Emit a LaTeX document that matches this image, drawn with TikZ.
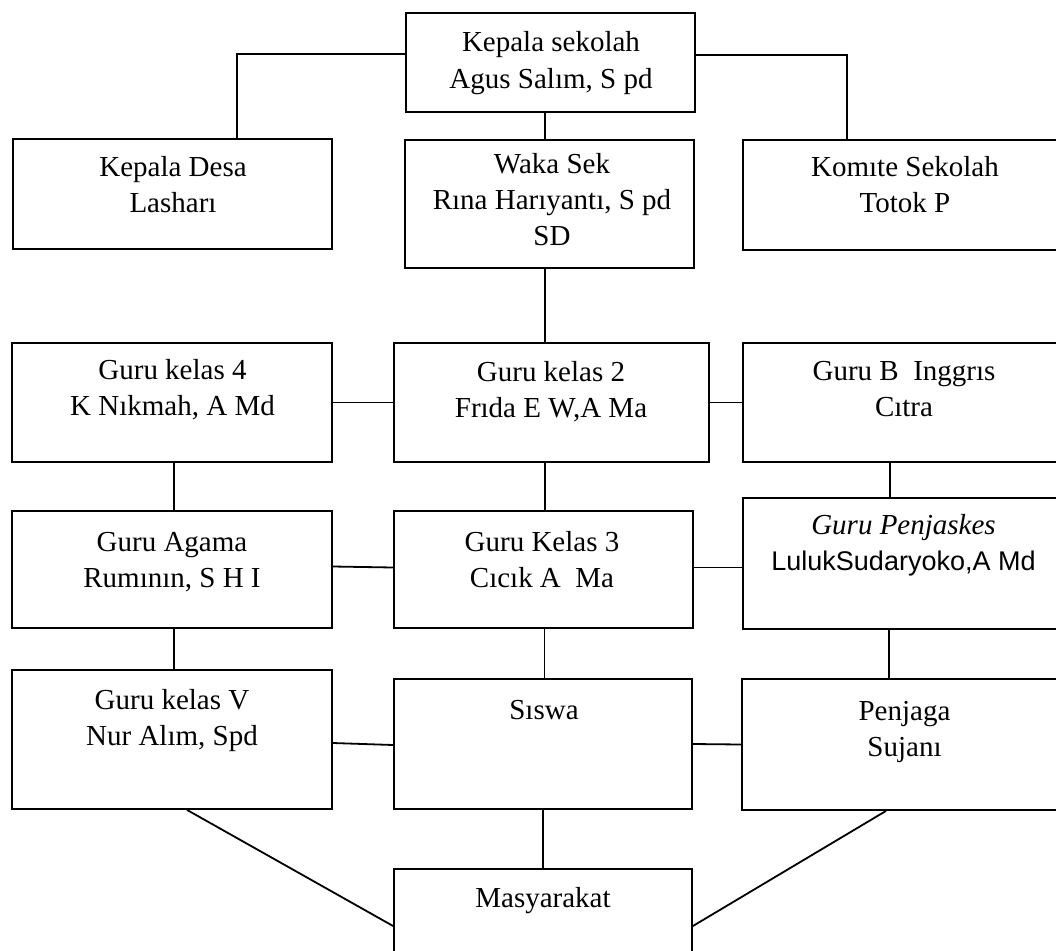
\documentclass[tikz,border=0pt]{standalone}
\usepackage{fontspec}
\setmainfont{Liberation Serif}
\newfontfamily\arialfont{Liberation Sans}
\usetikzlibrary{positioning}

\tikzset{
  box/.style={draw, line width=1.8pt, inner sep=0pt},
  lbl/.style={align=center, inner sep=0pt, anchor=base,
    font=\fontsize{29}{36}\selectfont},
  link/.style={line width=1.8pt}
}

\begin{document}
\begin{tikzpicture}[x=1pt,y=-1pt]
\useasboundingbox[fill=white] (0,0) rectangle (1056,950);
\clip (0,0) rectangle (1056,950);

% boxes, top to bottom
\node[box, minimum width=289pt, minimum height=99pt]  (kasek)   at (550.5,62.5) {};
\node[box, minimum width=319pt, minimum height=110pt] (desa)    at (172.5,194)  {};
\node[box, minimum width=289pt, minimum height=128pt] (waka)    at (549.5,204)  {};
\node[box, minimum width=317pt, minimum height=110pt] (komite)  at (901.5,195)  {};

\node[box, minimum width=320pt, minimum height=119pt] (kelas4)  at (172,402.5)   {};
\node[box, minimum width=315pt, minimum height=119pt] (kelas2)  at (551.5,402.5) {};
\node[box, minimum width=317pt, minimum height=119pt] (inggris) at (901.5,402.5) {};

\node[box, minimum width=320pt, minimum height=117pt] (agama)   at (172,569.5)   {};
\node[box, minimum width=299pt, minimum height=117pt] (kelas3)  at (543.5,569.5) {};
\node[box, minimum width=317pt, minimum height=131pt] (penjas)  at (901.5,563.5) {};

\node[box, minimum width=320pt, minimum height=139pt] (kelas5)  at (172,739.5)   {};
\node[box, minimum width=298pt, minimum height=130pt] (siswa)   at (543,744)     {};
\node[box, minimum width=318pt, minimum height=131pt] (penjaga) at (901,744.5)   {};

\node[box, minimum width=298pt, minimum height=110pt] (masy)    at (543,924)     {};

% texts (placed at the baseline of the last line)
\node[lbl] (tkasek)   at (551,88)    {Kepala sekolah\\Agus Salım, S pd};
\node[lbl] (tdesa)    at (173,212)   {Kepala Desa\\Lasharı};
\node[lbl] (twaka)    at (552,245)   {Waka Sek\\Rına Harıyantı, S pd\\SD};
\node[lbl] (tkomite)  at (905,212)   {Komıte Sekolah\\Totok P};
\node[lbl] (tkelas4)  at (172.5,415) {Guru kelas 4\\K Nıkmah, A Md};
\node[lbl] (tkelas2)  at (551,417)   {Guru kelas 2\\Frıda E W,A Ma};
\node[lbl] (tinggris) at (904,416)   {Guru B~~Inggrıs\\Cıtra};
\node[lbl] (tagama)   at (172,587)   {Guru Agama\\Rumının, S H I};
\node[lbl] (tkelas3)  at (542,587)   {Guru Kelas 3\\Cıcık A~~Ma};
\node[lbl] (tpenjas)  at (903.5,570) {\itshape Guru Penjaskes\\{\arialfont\fontsize{27}{36}\selectfont LulukSudaryoko,A Md}};
\node[lbl] (tkelas5)  at (172,745)   {Guru kelas V\\Nur Alım, Spd};
\node[lbl] (tsiswa)   at (544,719)   {Sıswa};
\node[lbl] (tpenjaga) at (904.5,756) {Penjaga\\Sujanı};
\node[lbl] (tmasy)    at (543,907)   {Masyarakat};

% connectors
\draw[link] ([yshift=8.5pt]kasek.west) -| ([xshift=64.5pt]desa.north);
\draw[link] ([yshift=7.5pt]kasek.east) -| ([xshift=-54.5pt]komite.north);
\draw[link] ([xshift=-5.5pt]kasek.south) -- ([xshift=-4.5pt]waka.north);
\draw[link] ([xshift=-4.5pt]waka.south) -- ([xshift=-6.5pt]kelas2.north);
\draw[link] (kelas4.east) -- (kelas2.west);
\draw[link] (kelas2.east) -- (inggris.west);
\draw[link] ([xshift=2pt]kelas4.south) -- ([xshift=2pt]agama.north);
\draw[link] ([xshift=1.5pt]kelas3.north) -- ([xshift=-6.5pt]kelas2.south);
\draw[link] ([xshift=-11.5pt]inggris.south) -- ([xshift=-11.5pt]penjas.north);
\draw[link] ([yshift=3pt]agama.east) -- ([yshift=2pt]kelas3.west);
\draw[link] ([yshift=2pt]kelas3.east) -- ([yshift=2pt]kelas3.east -| penjas.west);
\draw[link] ([xshift=2pt]agama.south) -- ([xshift=2pt]kelas5.north);
\draw[link] ([xshift=1pt]kelas3.south) -- ([xshift=1.5pt]siswa.north);
\draw[link] ([xshift=-12.5pt]penjas.south) -- ([xshift=-12pt]penjaga.north);
\draw[link] ([yshift=-3.5pt]kelas5.east) -- ([yshift=-1pt]siswa.west);
\draw[link] (siswa.east) -- (penjaga.west);
\draw[link] (siswa.south) -- (masy.north);
\draw[link] ([xshift=15pt]kelas5.south) -- ([yshift=-2pt]masy.west);
\draw[link] ([xshift=-15pt]penjaga.south) -- ([yshift=-2pt]masy.east);
\end{tikzpicture}
\end{document}
